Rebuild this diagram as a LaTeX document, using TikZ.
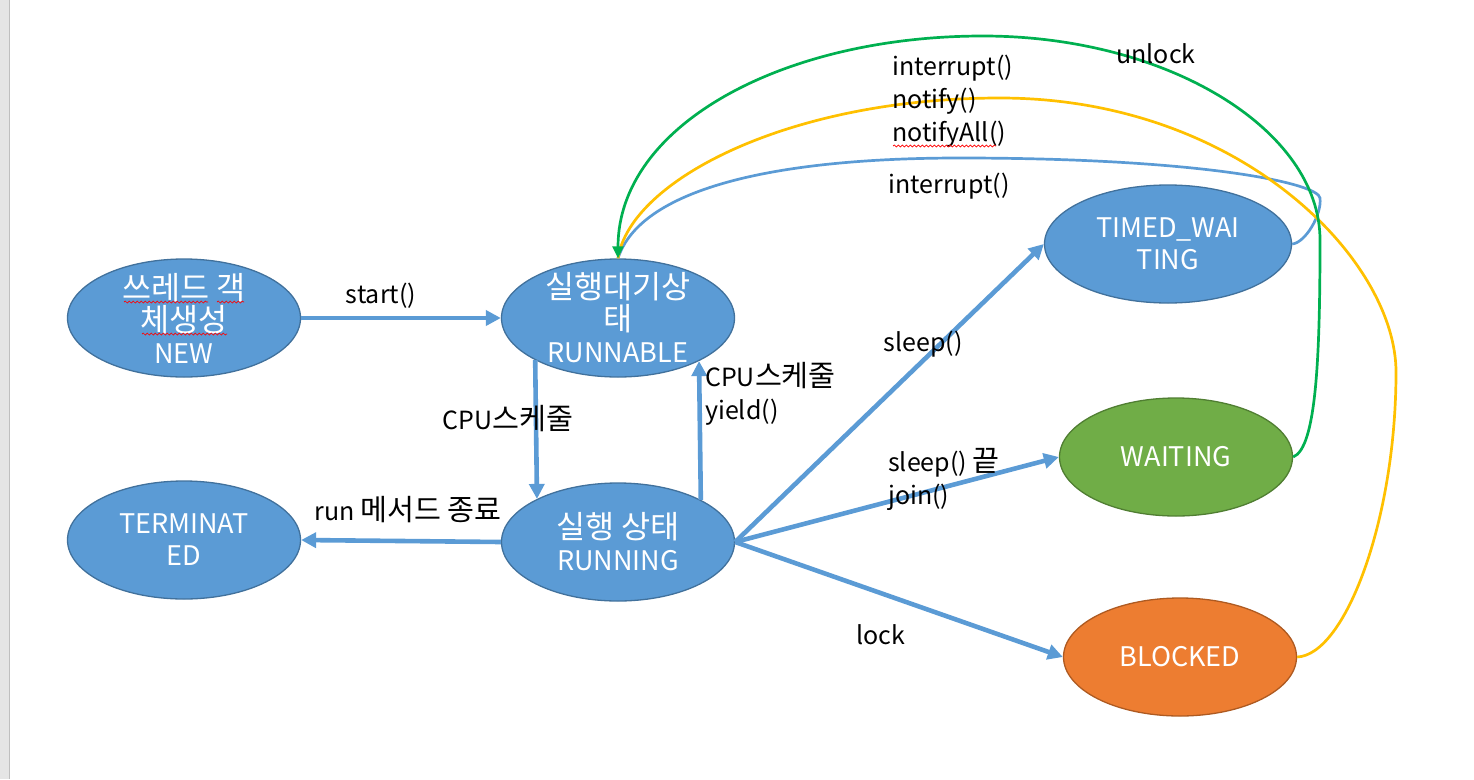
\documentclass[tikz,border=0pt]{standalone}
\usepackage{fontspec}
\setmainfont{Noto Sans CJK KR}
\newfontfamily\krfont[Scale=1.17]{Noto Sans CJK KR}
\newcommand{\K}[1]{{\krfont #1}}
\usetikzlibrary{arrows.meta,shapes.geometric,decorations.pathmorphing}
\definecolor{bfill}{HTML}{5B9BD5}
\definecolor{bedge}{HTML}{41719C}
\definecolor{gfill}{HTML}{70AD47}
\definecolor{gedge}{HTML}{507E32}
\definecolor{ofill}{HTML}{ED7D31}
\definecolor{oedge}{HTML}{AE5A21}
\definecolor{cgreen}{HTML}{00B050}
\definecolor{cyellow}{HTML}{FFC000}
\begin{document}
\begin{tikzpicture}[x=1pt,y=-1pt,
  state/.style={ellipse, draw=bedge, fill=bfill, line width=1.3pt, minimum width=233pt, minimum height=118pt, inner sep=0pt},
  greenstate/.style={state, draw=gedge, fill=gfill},
  orangestate/.style={state, draw=oedge, fill=ofill},
  ntext/.style={text=white, font=\fontsize{27}{32}\selectfont, align=center, inner sep=0pt},
  lbl/.style={text=black, font=\fontsize{25}{33}\selectfont, align=left, inner sep=0pt},
  flow/.style={draw=bfill, line width=4.6pt, -{Triangle[length=15pt,width=15pt]}},
  curve/.style={line width=2.7pt},
  squiggle/.style={draw=red, line width=0.7pt, decorate, decoration={snake, amplitude=1pt, segment length=4pt}}
]
\useasboundingbox (0,0) rectangle (1474,779);
\fill[black!10] (0,0) rectangle (9,779);
\draw[black!25, line width=1pt] (9.5,0) -- (9.5,779);

% states
\node[state] (new) at (184,318) {};
\node[state] (runnable) at (618,318) {};
\node[state] (running) at (618,542) {};
\node[state] (term) at (184,540) {};
\node[state, minimum width=247pt] (timed) at (1168,244) {};
\node[greenstate] (waiting) at (1176,457) {};
\node[orangestate] (blocked) at (1180,657) {};

\node[ntext] (newt) at (new) {\K{쓰레드 객}\\\K{체생성}\\NEW};
\node[ntext] (runnablet) at (runnable) {\K{실행대기상}\\\K{태}\\RUNNABLE};
\node[ntext] (runningt) at (running) {\K{실행 상태}\\RUNNING};
\node[ntext] (termt) at (term) {TERMINAT\\ED};
\node[ntext] (timedt) at (timed) {TIMED\_WAI\\TING};
\node[ntext] (waitingt) at (waiting) {WAITING};
\node[ntext] (blockedt) at (blocked) {BLOCKED};

% straight transitions
\draw[flow] (new.east) -- (runnable.west);
\draw[flow] (runnable.207.4) -- (running.152.6);
\draw[flow] (running.27.4) -- (runnable.332.6);
\draw[flow] (running.west) -- (term.east);
\draw[flow] (running.east) -- (timed.west);
\draw[flow] (running.east) -- (waiting.west);
\draw[flow] (running.east) -- (blocked.west);

% curved transitions back to RUNNABLE
\draw[curve, draw=bfill] (timed.east) .. controls (1305,243) and (1322,215) .. (1320,198)
  .. controls (1318,183) and (1200,158) .. (960,158)
  .. controls (770,158) and (640,190) .. (runnable.north);
\draw[curve, draw=cyellow] (blocked.east) .. controls (1345,655) and (1396,520) .. (1396,372)
  .. controls (1396,260) and (1240,98) .. (1000,98)
  .. controls (790,98) and (630,180) .. (runnable.north);
\draw[curve, draw=cgreen, -{Triangle[length=12pt,width=11pt]}] (waiting.east)
  .. controls (1316,448) and (1320,360) .. (1320,240)
  .. controls (1320,130) and (1168,36) .. (983,36)
  .. controls (783,36) and (618,125) .. (runnable.north);

% labels
\node[lbl] (lstart) at (381,296) {start()};
\node[lbl] (lcpu1) at (508,419) {CPU\K{스케줄}};
\node[lbl, anchor=west] (lcpu2) at (705,394) {CPU\K{스케줄}\\yield()};
\node[lbl] (lrun) at (408,510) {run \K{메서드 종료}};
\node[lbl] (lsleep) at (923,344) {sleep()};
\node[lbl, anchor=west] (ljoin) at (888,479) {sleep() \K{끝}\\join()};
\node[lbl] (llock) at (881,635) {lock};
\node[lbl] (lunlock) at (1156,54) {unlock};
\node[lbl, anchor=west] (lnotify) at (892,101) {interrupt()\\notify()\\notifyAll()};
\node[lbl] (lint) at (949,186) {interrupt()};

% spell-check marks
\draw[squiggle] (124,302) -- (208,302);
\draw[squiggle] (217,302) -- (244,302);
\draw[squiggle] (142,334) -- (227,334);
\draw[squiggle] (893,146) -- (996,146);
\end{tikzpicture}
\end{document}
